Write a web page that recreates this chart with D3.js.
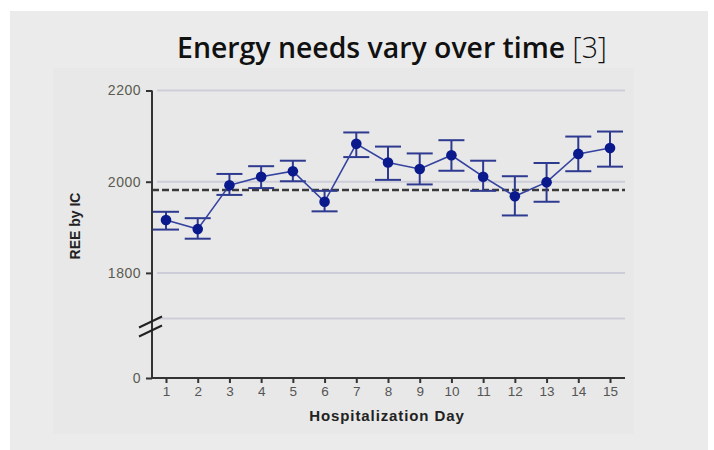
<!DOCTYPE html>
<html><head><meta charset="utf-8">
<script src="https://cdn.jsdelivr.net/npm/d3@7"></script>
<style>html,body{margin:0;padding:0;background:#fff;}svg{display:block;}</style>
</head><body>
<script>
const days = [1,2,3,4,5,6,7,8,9,10,11,12,13,14,15];
const meanREE = [1916,1896,1992,2011,2023,1956,2083,2042,2028,2058,2011,1968,1999,2061,2074];
const upperREE = [1934,1920,2017,2034,2046,1980,2108,2077,2062,2091,2046,2012,2041,2099,2110];
const lowerREE = [1895,1875,1971,1986,2001,1935,2054,2004,1994,2024,1980,1926,1956,2023,2033];
const referenceREE = 1982;
const yTicks = [0,1800,2000,2200];
const gridValues = [1700,1800,2000,2200];
const titleBold = "Energy needs vary over time";
const titleRef = " [3]";
const xTitle = "Hospitalization Day";
const yTitle = "REE by IC";

const W = 714, H = 450;
const svg = d3.select("body").append("svg").attr("width", W).attr("height", H);
svg.append("rect").attr("x",10).attr("y",11).attr("width",698).attr("height",439).attr("fill","#ebebeb");
svg.append("rect").attr("x",53).attr("y",68).attr("width",581).attr("height",366).attr("fill","#e8e8e8");

// title
const title = svg.append("text").attr("x",392).attr("y",58).attr("text-anchor","middle")
  .attr("font-family","'Open Sans', sans-serif").attr("font-size",22).attr("fill","#111");
title.append("tspan").attr("font-weight",600).text(titleBold);
title.append("tspan").attr("font-weight",300).text(titleRef);
{
  const w = title.node().getComputedTextLength();
  const fs = 22*430/w;
  title.attr("font-size", fs);
}

const x = d3.scaleLinear().domain([1,15]).range([166,610]);
const y = d3.scaleLinear().domain([0,1700,2200]).range([378,318.5,90.5]);
const xLeft = 152, xRight = 625;

// gridlines
svg.append("g").selectAll("line").data(gridValues).join("line")
  .attr("x1",157).attr("x2",xRight).attr("y1",d=>y(d)).attr("y2",d=>y(d))
  .attr("stroke","#cdcdda").attr("stroke-width",2);

// reference dashed line
svg.append("line").attr("x1",xLeft).attr("x2",xRight)
  .attr("y1",y(referenceREE)).attr("y2",y(referenceREE))
  .attr("stroke","#3a3a3a").attr("stroke-width",2.5).attr("stroke-dasharray","7,3");

// y axis
const yAxis = d3.axisLeft(y).tickValues(yTicks).tickSize(6).tickPadding(5).tickFormat(d3.format("d"));
const gy = svg.append("g").attr("transform",`translate(${xLeft},0)`).call(yAxis);
gy.select(".domain").remove();
gy.selectAll(".tick line").attr("stroke","#333").attr("stroke-width",2);
gy.selectAll(".tick text").attr("font-family","Arial, 'Liberation Sans', sans-serif").attr("font-size",14)
  .attr("fill","#5a5a50").attr("letter-spacing","0.5px");
svg.append("line").attr("x1",xLeft).attr("x2",xLeft).attr("y1",y(2200)).attr("y2",y(0)+1)
  .attr("stroke","#333").attr("stroke-width",2);

// x axis
const xAxis = d3.axisBottom(x).tickValues(days).tickSize(5).tickPadding(3).tickFormat(d3.format("d"));
const gx = svg.append("g").attr("transform",`translate(0,${y(0)})`).call(xAxis);
gx.select(".domain").remove();
gx.selectAll(".tick line").attr("stroke","#333").attr("stroke-width",2);
gx.selectAll(".tick text").attr("font-family","Arial, 'Liberation Sans', sans-serif").attr("font-size",13.5)
  .attr("fill","#555");
svg.append("line").attr("x1",xLeft-1).attr("x2",xRight).attr("y1",y(0)).attr("y2",y(0))
  .attr("stroke","#333").attr("stroke-width",2);

// axis break marks
const by = y(1700);
[4,13].forEach(off=>{
  svg.append("line").attr("x1",xLeft-13).attr("x2",xLeft+10)
    .attr("y1",by+off+5).attr("y2",by+off-6)
    .attr("stroke","#222").attr("stroke-width",2);
});

// axis titles
svg.append("text").attr("x",387).attr("y",421).attr("text-anchor","middle")
  .attr("font-family","Arial, 'Liberation Sans', sans-serif").attr("font-weight","bold").attr("font-size",15)
  .attr("letter-spacing","0.9px").attr("fill","#222").text(xTitle);
svg.append("text").attr("transform","translate(80,226) rotate(-90)").attr("text-anchor","middle")
  .attr("font-family","Arial, 'Liberation Sans', sans-serif").attr("font-weight","bold").attr("font-size",14)
  .attr("fill","#222").text(yTitle);

// data
const data = days.map((d,i)=>({d, m:meanREE[i], u:upperREE[i], l:lowerREE[i]}));
const errColor = "#2e3a8f";
const eb = svg.append("g");
data.forEach(p=>{
  eb.append("line").attr("x1",x(p.d)).attr("x2",x(p.d)).attr("y1",y(p.u)).attr("y2",y(p.l))
    .attr("stroke",errColor).attr("stroke-width",2);
  [p.u,p.l].forEach(v=>eb.append("line").attr("x1",x(p.d)-13).attr("x2",x(p.d)+13)
    .attr("y1",y(v)).attr("y2",y(v)).attr("stroke",errColor).attr("stroke-width",2));
});
svg.append("path").datum(data)
  .attr("d", d3.line().x(p=>x(p.d)).y(p=>y(p.m)))
  .attr("fill","none").attr("stroke","#3442a0").attr("stroke-width",1.6);
svg.append("g").selectAll("circle").data(data).join("circle")
  .attr("cx",p=>x(p.d)).attr("cy",p=>y(p.m)).attr("r",5.3).attr("fill","#0a1a8c");
</script>
</body></html>
